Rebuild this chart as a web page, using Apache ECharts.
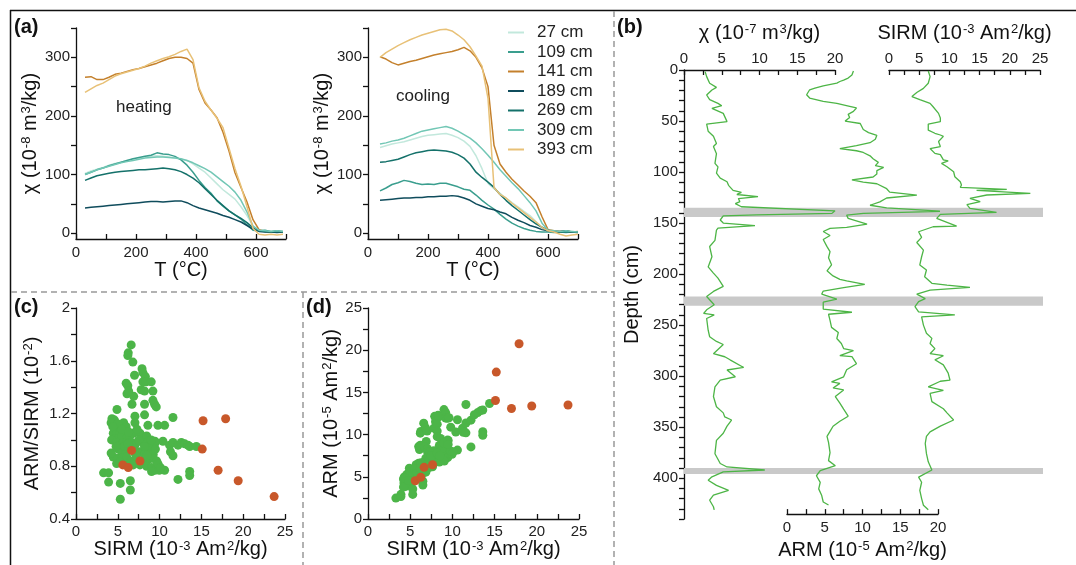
<!DOCTYPE html>
<html><head><meta charset="utf-8">
<script src="https://cdn.jsdelivr.net/npm/echarts@6/dist/echarts.min.js"></script>
<style>html,body{margin:0;padding:0;background:#fff}#c{width:1076px;height:565px}</style>
</head><body><div id="c"></div>
<script>
// ---------- (a) thermomagnetic curves ----------
const legendNames = ['27 cm','109 cm','141 cm','189 cm','269 cm','309 cm','393 cm'];
const heatT = [30,50,70,90,110,130,150,170,190,210,230,250,270,290,310,330,350,370,390,410,430,450,470,490,510,530,550,570,590,610,630,650,670,690];
const heat27  = [102,106,109,112,116,119,121,124,126,128,130,131,132,131,130,128,126,124,118,111,104,94,84,74,66,58,45,30,12,4,3,2,3,2];
const heat109 = [100,104,108,111,115,118,121,124,127,129,131,133,137,135,134,131,125,116,104,90,78,68,55,46,38,31,24,14,5,4,5,3,4,3];
const heat141 = [266,267,262,262,266,271,273,276,279,281,284,287,290,294,298,300,300,298,290,245,222,210,197,172,140,103,78,53,23,6,3,2,3,2];
const heat189 = [43,44,45,46,47,48,49,50,51,52,53,54,54,53,54,55,55,52,47,43,40,37,34,30,27,23,19,13,7,3,2,2,1,2];
const heat269 = [90,94,98,100,102,104,105,106,107,108,108,109,110,111,110,108,105,100,94,86,76,66,56,47,38,31,25,18,9,4,3,2,3,2];
const heat309 = [100,104,108,111,114,117,120,122,124,126,128,129,130,130,129,128,127,124,120,115,110,104,96,88,80,70,56,36,12,5,4,3,4,3];
const heat393 = [240,246,252,256,262,268,272,275,278,281,285,290,294,298,301,305,310,314,296,248,225,210,196,180,145,110,80,45,8,-2,-3,-2,-3,-2];

const coolT = [40,60,80,100,120,140,160,180,200,220,240,260,280,300,320,340,360,380,400,420,440,460,480,500,520,540,560,580,600,620,640,660,680,700];
const cool27  = [146,149,152,154,156,159,162,165,167,168,169,170,167,163,157,148,132,110,85,76,68,60,52,45,37,30,20,10,5,4,3,2,3,2];
const cool109 = [72,77,83,86,90,88,85,83,84,83,85,85,82,79,75,73,65,56,48,41,32,24,17,12,8,5,3,2,2,1,2,1,2,1];
const cool141 = [301,297,291,287,290,293,295,298,301,304,306,308,310,313,317,311,300,282,250,150,118,104,92,82,72,63,52,28,6,4,3,4,2,3];
const cool189 = [56,57,58,59,60,60,61,61,62,62,63,63,64,63,60,56,50,46,42,40,36,33,27,22,18,13,10,6,4,3,3,4,2,2];
const cool269 = [121,122,124,126,130,134,137,139,141,142,141,140,138,134,128,118,104,95,87,78,66,56,47,39,31,23,16,10,5,3,2,3,2,1];
const cool309 = [152,154,157,159,162,166,170,174,176,178,180,182,179,174,168,162,154,144,133,121,108,97,86,76,64,52,38,17,5,4,3,4,3,2];
const cool393 = [300,308,314,320,325,330,334,338,341,344,347,348,345,338,330,318,302,285,230,78,66,60,51,43,35,27,19,10,4,2,-2,-5,-3,-2];

// ---------- (b) depth profiles ----------
const chiDepth = [1.6,6.5,13,17,19.6,24.5,29,32.7,35,37.6,42.5,50.6,53,60,65,72,75,82,91.5,95,101,106,109.5,113,118,120,122,124,126,129,131,134,138,140.5,142,143,147,150,152.6,155,157,167,173,183,193,199,204,212,217,222,230,235,238.6,240,243.5,255,261.4,266,269,278,281,284,291.5,294,300.6,304,310.5,320,330,336,340,343,349,356,363,376,385.6,389,392,393.8,398.7,402,407,412,416.7,421.6,428,431];
const chiVals  = [2.8,3.0,3.4,4.3,3.7,3.0,3.4,4.5,5.0,3.7,5.2,5.7,3.0,3.2,3.9,4.3,3.9,4.3,4.1,4.5,4.3,4.8,5.7,5.9,6.5,7.6,7.0,9.8,7.2,7.4,6.8,7.6,20,19.6,9.6,5.2,4.8,5.2,9.4,4.5,4.3,4.1,3.4,3.7,3.2,3.9,4.5,5.2,3.9,3.0,4.0,3.0,2.6,4.0,3.0,3.2,3.4,4.3,5.2,3.9,5.4,6.1,7.9,5.7,6.8,4.8,4.1,3.9,4.3,5.2,5.4,6.3,5.7,5.2,4.3,4.1,4.8,5.7,10.7,5.2,3.7,3.2,4.3,5.9,3.9,3.4,3.9,4.0];

const armDepth = [1,5,8,10,11.4,13,15.7,18,19.6,24.5,27.8,31,33,36,37.6,41,44,47,50.6,53,59,62,64.7,68.6,72,75,77.8,80,81.7,85,88,91.5,94.8,96.4,99.7,103,106,108.8,111,112.7,117.6,121,124,126.8,130.7,134,136.6,140,142,143.8,147,152.6,156,157,160,164,168,175,180,186,193,199,204,207.5,209,212.4,215.7,219,222,227,230,237,240,242,248,255,260,266,271,276,278,283,284,291,297,304,309,310.5,315,317,323.5,330,336,343,348,353,358,363,369,379,387,392,397,402,408.5,415,421.6,428,431];
const armVals  = [8.8,8.6,8.1,7.5,7.0,6.6,4.8,3.7,3.0,2.6,3.0,4.8,6.6,8.3,9.2,8.8,8.1,8.3,7.7,9.7,10.1,10.8,11.9,11.7,11.0,9.2,7.0,9.2,10.1,11.0,11.4,12.1,11.7,12.8,11.9,11.9,11.4,8.6,10.1,11.9,13.2,13.6,17.2,13.2,12.3,11.0,13.2,20.5,10.1,7.9,8.1,10.6,7.9,5.7,4.8,5.7,4.8,5.3,5.7,5.5,5.9,5.3,6.1,7.0,7.9,10.3,7.5,4.8,4.6,6.6,4.8,4.8,8.6,5.5,5.7,5.9,6.8,6.6,7.2,7.5,8.8,7.0,8.6,9.2,7.9,7.5,5.9,7.0,6.1,7.5,6.4,7.0,7.5,8.1,7.0,6.1,5.7,5.3,5.5,5.7,5.5,6.4,4.4,3.9,4.4,4.2,4.6,4.8,5.5];

const sirmDepth = [1,6.5,13,18,22,26,29,32.7,36,42.5,47,50.6,53,59,62,63.7,65,70,75,77,81.7,83,88,89,91.5,94.8,99.7,104.6,109.5,112.7,115,117,118,121,122.5,125.8,129,132,135.6,139.5,141.5,145.4,153,153.6,158.5,164,169,176.5,183,191,196,202.6,209,210.8,213,215.7,219.6,224,227,232,237,240,242,250,258,263,268,273,278,280,284,289,297,304,305,310.5,314,317,325,332,336,343,349,354.6,359,366,376,384,392,399,404,412,420,426.5,431];
const sirmVals  = [6.5,6.8,6.5,5.7,4.6,3.8,5.1,6.8,7.3,8.2,8.5,8.5,6.5,6.5,7.6,8.5,9.0,8.2,8.5,6.8,7.6,8.5,9.0,9.8,8.7,9.6,10.7,10.9,11.8,12.0,11.8,19.5,14.5,23.4,16.2,13.4,15.1,12.9,13.4,17.8,8.5,7.9,11.2,7.3,4.9,5.4,4.6,5.7,5.4,5.1,6.2,5.9,7.1,9.6,13.4,6.8,4.6,6.0,4.9,4.3,4.9,10.9,5.4,5.7,6.2,7.1,6.8,7.6,6.8,9.0,7.6,9.0,9.8,10.1,8.5,6.5,9.0,6.8,7.1,9.0,9.6,10.7,8.5,6.8,6.2,6.0,6.2,6.5,7.1,4.9,5.4,5.1,5.4,5.7,6.5];

const bandDepths = [[135,144],[222,231],[390,396]];

// ---------- (c)/(d) scatter: SIRM (1e-3) and ARM/SIRM (1e-2) ----------
const greenSirm = [6.6,6.25,6.2,6.8,7.0,6.0,6.2,7.9,8.0,8.3,8.0,8.4,9.0,7.8,8.2,9.2,6.9,6.1,6.3,9.2,9.4,9.6,8.2,6.7,4.9,7.05,8.2,11.6,4.3,4.6,4.2,5.7,6.0,7.05,8.6,9.8,10.6,
  4.46,4.86,5.26,4.66,5.06,5.46,6.06,6.45,6.85,7.65,7.85,8.45,4.26,4.86,5.26,5.66,6.06,6.65,7.05,7.57,8.05,8.65,9.44,5.06,5.46,5.98,6.45,7.05,7.65,8.25,8.76,9.24,4.46,4.94,5.46,6.06,6.53,7.25,8.05,8.65,9.24,9.64,4.86,5.26,5.86,6.25,6.85,7.65,8.45,9.04,9.44,9.96,9.04,
  10.4,11.2,11.6,12.2,12.6,13.0,13.4,13.6,14.4,11.3,11.6,10.6,12.2,13.6,13.6,
  3.3,3.9,3.9,5.3,6.5,6.5,5.3,4.2,
  9.5,9.2,8.8,9.0,5.0,4.4,5.5,6.3,7.3,7.5,6.8,7.2,5.8,6.2,8.2,8.5,9.8,10.1,9.5,4.8];
const greenRatio = [1.72,1.66,1.64,1.59,1.49,1.43,1.41,1.54,1.51,1.48,1.44,1.44,1.44,1.38,1.37,1.37,1.33,1.35,1.37,1.30,1.27,1.25,1.27,1.27,1.23,1.18,1.19,1.17,1.16,1.15,1.13,1.13,1.10,1.13,1.11,1.11,1.11,
  1.05,1.06,1.05,1.01,1.01,1.03,1.01,1.03,1.05,1.05,1.03,1.03,1.00,0.98,0.96,0.98,0.98,0.98,0.96,0.99,0.98,0.99,0.99,0.93,0.91,0.90,0.93,0.90,0.91,0.90,0.91,0.89,0.87,0.86,0.86,0.87,0.84,0.84,0.85,0.85,0.86,0.84,0.82,0.83,0.82,0.81,0.81,0.81,0.80,0.79,0.77,0.77,0.76,
  0.99,0.96,0.98,0.96,0.98,0.97,0.96,0.95,0.95,0.91,0.88,0.77,0.70,0.76,0.73,
  0.75,0.75,0.68,0.67,0.69,0.62,0.55,0.90,
  0.98,0.92,0.95,1.00,1.12,1.10,1.08,1.06,1.08,1.00,0.94,0.88,0.95,0.97,0.95,0.88,0.82,0.79,0.93,0.95];
const orangeSirm  = [15.2,17.9,15.1,6.65,5.6,6.25,7.65,17.0,19.4,23.7];
const orangeRatio = [1.145,1.16,0.93,0.92,0.81,0.79,0.84,0.77,0.69,0.57];

// tick / label positions
const tTicks = [0,100,200,300,400,500,600,700], tLabels = [0,200,400,600];
const chiTicks = [0,50,100,150,200,250,300,350], chiLabels = [0,100,200,300];
const ratioTicks = [0.4,0.6,0.8,1.0,1.2,1.4,1.6,1.8,2.0], ratioLabels = [0.4,0.8,1.2,1.6,2];
const t25 = [0,2.5,5,7.5,10,12.5,15,17.5,20,22.5,25], l25 = [0,5,10,15,20,25];
const t20 = [0,2.5,5,7.5,10,12.5,15,17.5,20], l20 = [0,5,10,15,20];
const depthTicks = [0,10,20,30,40,50,60,70,80,90,100,110,120,130,140,150,160,170,180,190,200,210,220,230,240,250,260,270,280,290,300,310,320,330,340,350,360,370,380,390,400,410,420,430,440];
const depthLabels = [0,50,100,150,200,250,300,350,400];

// ---------- styling ----------
const colors = {'27 cm':'#c2e8dc','109 cm':'#3a9e8e','141 cm':'#c4802c','189 cm':'#0f4c5c','269 cm':'#14716a','309 cm':'#72c7b5','393 cm':'#e8c177'};
const FONT = 'Arial, "Liberation Sans", Helvetica, sans-serif';
const GREEN = '#4cb548', ORANGE = '#c8582a', LINEG = '#4db546';
const rich = {t:{fontSize:20,fontFamily:FONT,color:'#111'}, s:{fontSize:13,fontFamily:FONT,color:'#111',verticalAlign:'top',padding:[0,0,0,1]}};
function nm(parts){ return parts.map(p => p[1] ? '{s|'+p[0]+'}' : '{t|'+p[0]+'}').join(''); }

function ax(extra){
  const base = {
    axisLine:{show:true,onZero:false,lineStyle:{color:'#111',width:1.3}},
    axisTick:{show:true,length:5,lineStyle:{color:'#111',width:1.3}},
    axisLabel:{color:'#222',fontSize:15,fontFamily:FONT},
    splitLine:{show:false},
    nameTextStyle:{rich:rich}
  };
  for (const k in extra){
    if (typeof extra[k]==='object' && !Array.isArray(extra[k]) && base[k]) base[k] = Object.assign({}, base[k], extra[k]);
    else base[k] = extra[k];
  }
  return base;
}

const grids = [
  {left:76, top:28, width:210, height:211},   // 0 heating
  {left:368, top:28, width:210, height:211},  // 1 cooling
  {left:76, top:308, width:209, height:211},  // 2 (c)
  {left:368, top:308, width:211, height:211}, // 3 (d)
  {left:684, top:70, width:359, height:449},  // 4 depth + bands
  {left:684, top:70, width:151, height:449},  // 5 chi
  {left:787, top:70, width:151, height:449},  // 6 ARM
  {left:889, top:70, width:151, height:449}   // 7 SIRM
];

const chiName = nm([['χ (10'],['-8',1],[' m'],['3',1],['/kg)']]);
const sirmName = nm([['SIRM (10'],['-3',1],[' Am'],['2',1],['/kg)']]);
const xAxes = [
  ax({gridIndex:0,type:'value',min:0,max:700,axisTick:{inside:true,customValues:tTicks},axisLabel:{customValues:tLabels,margin:6},name:'{t|T (°C)}',nameLocation:'middle',nameGap:21}),
  ax({gridIndex:1,type:'value',min:0,max:700,axisTick:{inside:true,customValues:tTicks},axisLabel:{customValues:tLabels,margin:6},name:'{t|T (°C)}',nameLocation:'middle',nameGap:21}),
  ax({gridIndex:2,type:'value',min:0,max:25,axisTick:{inside:true,customValues:t25},axisLabel:{customValues:l25,margin:5},name:sirmName,nameLocation:'middle',nameGap:19}),
  ax({gridIndex:3,type:'value',min:0,max:25,axisTick:{inside:true,customValues:t25},axisLabel:{customValues:l25,margin:5},name:sirmName,nameLocation:'middle',nameGap:19}),
  {gridIndex:4,type:'value',min:0,max:1,show:false},
  ax({gridIndex:5,type:'value',position:'top',min:0,max:20,axisTick:{inside:true,customValues:t20},axisLabel:{customValues:l20,margin:4},name:nm([['χ (10'],['-7',1],[' m'],['3',1],['/kg)']]),nameLocation:'middle',nameGap:27}),
  ax({gridIndex:6,type:'value',position:'bottom',min:0,max:20,axisTick:{inside:true,customValues:t20},axisLabel:{customValues:l20,margin:6},name:nm([['ARM (10'],['-5',1],[' Am'],['2',1],['/kg)']]),nameLocation:'middle',nameGap:21}),
  ax({gridIndex:7,type:'value',position:'top',min:0,max:25,axisTick:{inside:true,customValues:t25},axisLabel:{customValues:l25,margin:4},name:sirmName,nameLocation:'middle',nameGap:27})
];
const yAxes = [
  ax({gridIndex:0,type:'value',min:-10,max:350,axisLabel:{customValues:chiLabels,margin:6},axisTick:{customValues:chiTicks},name:chiName,nameLocation:'middle',nameGap:36}),
  ax({gridIndex:1,type:'value',min:-10,max:350,axisLabel:{customValues:chiLabels,margin:6},axisTick:{customValues:chiTicks},name:chiName,nameLocation:'middle',nameGap:36}),
  ax({gridIndex:2,type:'value',min:0.4,max:2,axisLabel:{customValues:ratioLabels,margin:6,formatter:v=>String(+(+v).toFixed(1))},axisTick:{customValues:ratioTicks},name:nm([['ARM/SIRM (10'],['-2',1],[')']]),nameLocation:'middle',nameGap:34}),
  ax({gridIndex:3,type:'value',min:0,max:25,axisLabel:{customValues:l25,margin:6},axisTick:{customValues:t25},name:nm([['ARM (10'],['-5',1],[' Am'],['2',1],['/kg)']]),nameLocation:'middle',nameGap:26}),
  ax({gridIndex:4,type:'value',inverse:true,min:0,max:440,axisLabel:{customValues:depthLabels,margin:6},axisTick:{customValues:depthTicks},name:'{t|Depth (cm)}',nameLocation:'middle',nameGap:42}),
  {gridIndex:5,type:'value',inverse:true,min:0,max:440,show:false},
  {gridIndex:6,type:'value',inverse:true,min:0,max:440,show:false},
  {gridIndex:7,type:'value',inverse:true,min:0,max:440,show:false}
];

const series = [];
function curve(name, xs, ys, g){
  series.push({name:name,type:'line',xAxisIndex:g,yAxisIndex:g,data:xs.map((x,i)=>[x,ys[i]]),
    showSymbol:false,symbol:'none',clip:false,lineStyle:{width:1.5,color:colors[name]},itemStyle:{color:colors[name]},z:2});
}
const heat = {'27 cm':heat27,'109 cm':heat109,'141 cm':heat141,'189 cm':heat189,'269 cm':heat269,'309 cm':heat309,'393 cm':heat393};
const cool = {'27 cm':cool27,'109 cm':cool109,'141 cm':cool141,'189 cm':cool189,'269 cm':cool269,'309 cm':cool309,'393 cm':cool393};
legendNames.forEach(n=>curve(n, heatT, heat[n], 0));
legendNames.forEach(n=>curve(n, coolT, cool[n], 1));

// scatter
const greenC = greenSirm.map((s,i)=>[s, greenRatio[i]]);
const greenD = greenSirm.map((s,i)=>[s, s*greenRatio[i]]);
const orangeC = orangeSirm.map((s,i)=>[s, orangeRatio[i]]);
const orangeD = orangeSirm.map((s,i)=>[s, s*orangeRatio[i]]);
[[greenC,2,GREEN],[orangeC,2,ORANGE],[greenD,3,GREEN],[orangeD,3,ORANGE]].forEach(([d,g,c])=>{
  series.push({type:'scatter',xAxisIndex:g,yAxisIndex:g,data:d,symbolSize:9,itemStyle:{color:c,opacity:1},z:3});
});

// bands
series.push({type:'line',xAxisIndex:4,yAxisIndex:4,data:[],markArea:{silent:true,itemStyle:{color:'#c9c9c9'},
  data:bandDepths.map(b=>[{xAxis:0,yAxis:b[0]},{xAxis:1,yAxis:b[1]}])},z:1});
// depth profiles
[[chiVals,chiDepth,5],[armVals,armDepth,6],[sirmVals,sirmDepth,7]].forEach(([v,d,g])=>{
  series.push({type:'line',xAxisIndex:g,yAxisIndex:g,data:v.map((x,i)=>[x,d[i]]),showSymbol:false,symbol:'none',clip:false,
    lineStyle:{width:1.3,color:LINEG},z:3});
});

const dash = {stroke:'#999',lineWidth:1.5,lineDash:[6,4]};
const graphic = [
  {type:'line',shape:{x1:10,y1:10.5,x2:1076,y2:10.5},style:{stroke:'#111',lineWidth:1.5}},
  {type:'line',shape:{x1:10.5,y1:10,x2:10.5,y2:565},style:{stroke:'#111',lineWidth:1.5}},
  {type:'line',shape:{x1:614,y1:11,x2:614,y2:565},style:dash},
  {type:'line',shape:{x1:11,y1:292,x2:614,y2:292},style:dash},
  {type:'line',shape:{x1:303,y1:292,x2:303,y2:565},style:dash},
  {type:'text',left:14,top:17,style:{text:'(a)',font:'bold 20px '+FONT,fill:'#111'}},
  {type:'text',left:617,top:17,style:{text:'(b)',font:'bold 20px '+FONT,fill:'#111'}},
  {type:'text',left:14,top:297,style:{text:'(c)',font:'bold 20px '+FONT,fill:'#111'}},
  {type:'text',left:306,top:297,style:{text:'(d)',font:'bold 20px '+FONT,fill:'#111'}},
  {type:'text',left:116,top:99,style:{text:'heating',font:'17px '+FONT,fill:'#222'}},
  {type:'text',left:396,top:88,style:{text:'cooling',font:'17px '+FONT,fill:'#222'}}
];

const chart = echarts.init(document.getElementById('c'), null, {renderer:'canvas'});
chart.setOption({
  animation:false,
  backgroundColor:'#fff',
  textStyle:{fontFamily:FONT},
  grid:grids, xAxis:xAxes, yAxis:yAxes, series:series, graphic:graphic,
  legend:{data:legendNames,orient:'vertical',left:503,top:19,itemWidth:16,itemHeight:2,itemGap:2.5,icon:'rect',
    textStyle:{fontSize:17,color:'#222',fontFamily:FONT,padding:[0,0,0,8]}}
});
</script></body></html>
